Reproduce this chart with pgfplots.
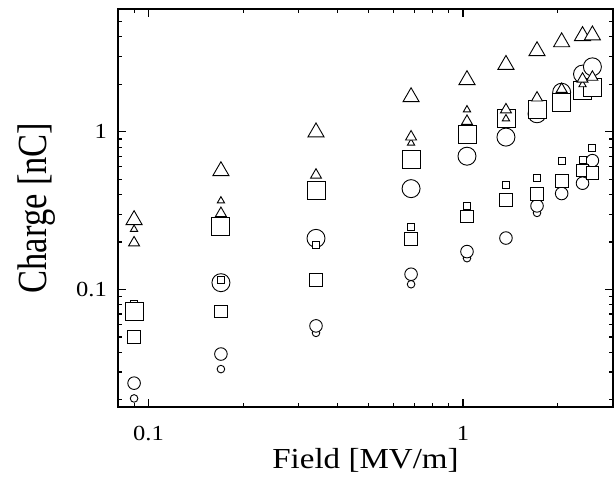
\documentclass[border=0pt]{standalone}
\usepackage{pgfplots}
\pgfplotsset{compat=1.18}
\usepackage{graphicx}
\usepackage{fontspec}
\setmainfont{Liberation Serif}
\newfontfamily\widefont{Liberation Serif}[FakeStretch=1.14]

\pgfplotsset{
  mk/.style={only marks, mark options={draw=black, fill=white, line width=0.9pt, solid}},
  triL/.style={mk, mark=triangle*, mark size=9.3pt},
  triM/.style={mk, mark=triangle*, mark size=6.3pt},
  triS/.style={mk, mark=triangle*, mark size=4.2pt},
  sqL/.style={mk, mark=square*, mark size=9pt},
  sqM/.style={mk, mark=square*, mark size=6.3pt},
  sqS/.style={mk, mark=square*, mark size=3.5pt},
  cirL/.style={mk, mark=*, mark size=9pt},
  cirM/.style={mk, mark=*, mark size=6.3pt},
  cirS/.style={mk, mark=*, mark size=3.8pt},
}

\begin{document}
\begin{tikzpicture}
\useasboundingbox (-118pt,-70pt) rectangle (497pt,407pt);
\begin{axis}[
  at={(0pt,0pt)}, anchor=south west,
  scale only axis, width=495pt, height=398pt,
  xmode=log, ymode=log,
  xmin=0.08, xmax=3, ymin=0.018, ymax=6,
  xtick={0.1,1}, xticklabels={0.1,1},
  ytick={0.1,1}, yticklabels={0.1,1},
  minor xtick={0.09,0.2,0.3,0.4,0.5,0.6,0.7,0.8,0.9,2,3},
  minor ytick={0.02,0.03,0.04,0.05,0.06,0.07,0.08,0.09,0.2,0.3,0.4,0.5,0.6,0.7,0.8,0.9,2,3,4,5},
  xtick pos=both, ytick pos=both,
  tick align=inside,
  major tick length=8.5pt, minor tick length=4.5pt,
  axis line style={line width=1.2pt},
  every tick/.style={black, line width=1.1pt},
  tick label style={font=\widefont\fontsize{21.5}{21.5}\selectfont, inner sep=0pt},
  xticklabel style={anchor=base, yshift=-33pt},
  yticklabel style={anchor=east, xshift=-11pt},
  xlabel={Field [MV/m]},
  ylabel={\scalebox{1}[1.2]{Charge [nC]}},
  xlabel style={font=\widefont\fontsize{29}{29}\selectfont,
    at={(axis description cs:0.5,-0.1533)}, anchor=base},
  ylabel style={font=\fontsize{34.5}{34.5}\selectfont,
    at={(axis description cs:-0.144,0.5)}, anchor=base},
]
% circles
\addplot[cirS] coordinates {(0.090,0.0204) (0.170,0.0313) (0.341,0.0531) (0.684,0.108) (1.03,0.158) (1.72,0.306)};
\addplot[cirM] coordinates {(0.090,0.0255) (0.170,0.039) (0.341,0.0588) (0.684,0.125) (1.03,0.174) (1.37,0.212) (1.72,0.339) (2.06,0.406) (2.40,0.472) (2.58,0.656)};
\addplot[cirL] coordinates {(0.170,0.1105) (0.341,0.211) (0.684,0.436) (1.03,0.70) (1.37,0.925) (1.72,1.30) (2.06,1.78) (2.40,2.32) (2.58,2.58)};
% squares
\addplot[sqS] coordinates {(0.090,0.081) (0.170,0.1143) (0.341,0.191) (0.684,0.249) (1.03,0.339) (1.37,0.461) (1.72,0.511) (2.06,0.654) (2.40,0.664) (2.58,0.790)};
\addplot[sqM] coordinates {(0.090,0.050) (0.170,0.0726) (0.341,0.1146) (0.684,0.2096) (1.03,0.290) (1.37,0.370) (1.72,0.402) (2.06,0.488) (2.40,0.570) (2.58,0.548)};
\addplot[sqL] coordinates {(0.090,0.0721) (0.170,0.252) (0.341,0.426) (0.684,0.665) (1.03,0.959) (1.37,1.21) (1.72,1.377) (2.06,1.53) (2.40,1.82) (2.58,1.905)};
% triangles
\addplot[triS] coordinates {(0.090,0.241) (0.170,0.365) (0.684,0.848) (1.03,1.379) (1.37,1.21) (2.40,1.99)};
\addplot[triM] coordinates {(0.090,0.198) (0.170,0.304) (0.341,0.532) (0.684,0.929) (1.03,1.166) (1.37,1.38) (1.72,1.64) (2.06,1.86) (2.40,2.16) (2.58,2.22)};
\addplot[triL] coordinates {(0.090,0.276) (0.170,0.564) (0.341,0.993) (0.684,1.66) (1.03,2.13) (1.37,2.66) (1.72,3.25) (2.06,3.70) (2.40,4.05) (2.58,4.09)};
\end{axis}
\end{tikzpicture}
\end{document}
